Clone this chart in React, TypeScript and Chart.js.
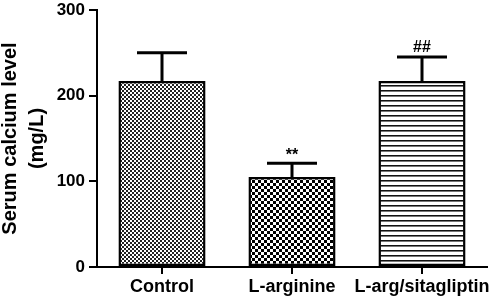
import React, { useEffect, useRef } from "react";
import { Chart, registerables } from "chart.js";

Chart.register(...registerables);

const categories = ["Control", "L-arginine", "L-arg/sitagliptin"];
const means = [217, 105, 217];
const errors = [33, 16, 28];
const sigLabels = ["", "**", "##"];
const yTicks = [0, 100, 200, 300];

const FONT = "'Liberation Sans', Arial, Helvetica, sans-serif";

function makePattern(kind: string): CanvasPattern | string {
  const c = document.createElement("canvas");
  const ctx = c.getContext("2d");
  if (!ctx) return "#888";
  if (kind === "fine") {
    c.width = 4; c.height = 4;
    ctx.fillStyle = "#fff"; ctx.fillRect(0, 0, 4, 4);
    ctx.fillStyle = "#222";
    ctx.fillRect(0, 0, 2, 2); ctx.fillRect(2, 2, 2, 2);
  } else if (kind === "coarse") {
    c.width = 6; c.height = 6;
    ctx.fillStyle = "#fff"; ctx.fillRect(0, 0, 6, 6);
    ctx.fillStyle = "#000";
    ctx.fillRect(0, 0, 3, 3); ctx.fillRect(3, 3, 3, 3);
  } else {
    c.width = 4; c.height = 5;
    ctx.fillStyle = "#fff"; ctx.fillRect(0, 0, 4, 5);
    ctx.fillStyle = "#111"; ctx.fillRect(0, 0, 4, 1);
    ctx.fillStyle = "#777"; ctx.fillRect(0, 1, 4, 1);
  }
  const p = ctx.createPattern(c, "repeat");
  return p || "#888";
}

const errorBarPlugin = {
  id: "errorBars",
  afterDatasetsDraw(chart: any) {
    const ctx = chart.ctx;
    const meta = chart.getDatasetMeta(0);
    const yScale = chart.scales.y;
    ctx.save();
    meta.data.forEach((bar: any, i: number) => {
      const x = bar.x;
      const yTop = yScale.getPixelForValue(means[i]);
      const yErr = yScale.getPixelForValue(means[i] + errors[i]);
      ctx.strokeStyle = "#000";
      ctx.lineWidth = 3;
      ctx.beginPath();
      ctx.moveTo(x, yTop);
      ctx.lineTo(x, yErr);
      ctx.moveTo(x - 25, yErr);
      ctx.lineTo(x + 25, yErr);
      ctx.stroke();
      if (sigLabels[i]) {
        ctx.fillStyle = "#000";
        ctx.font = `bold 16px ${FONT}`;
        ctx.textAlign = "center";
        ctx.textBaseline = "alphabetic";
        const off = sigLabels[i] === "**" ? 3 : 5;
        ctx.fillText(sigLabels[i], x, yErr - off);
      }
    });
    ctx.restore();
  },
};

export default function App() {
  const ref = useRef<HTMLCanvasElement | null>(null);
  useEffect(() => {
    if (!ref.current) return;
    const patterns = [makePattern("fine"), makePattern("coarse"), makePattern("stripes")];
    const chart = new Chart(ref.current, {
      type: "bar",
      data: {
        labels: categories,
        datasets: [
          {
            data: means,
            backgroundColor: patterns as any,
            borderColor: "#000",
            borderWidth: 2.5,
            borderSkipped: false,
            categoryPercentage: 1,
            barPercentage: 0.67,
          },
        ],
      },
      options: {
        responsive: false,
        animation: false,
        devicePixelRatio: 1,
        layout: { padding: { top: 10, right: 11, left: 0, bottom: 0 } },
        plugins: { legend: { display: false }, tooltip: { enabled: false } },
        scales: {
          x: {
            grid: { display: true, drawOnChartArea: false, offset: false, tickLength: 7, color: "#000", lineWidth: 2 },
            border: { display: true, color: "#000", width: 2 },
            ticks: { color: "#000", font: { family: FONT, size: 18, weight: "bold" }, padding: 2, maxRotation: 0, autoSkip: false },
            afterFit: (s: any) => { s.height = 32; s.paddingLeft = 0; s.paddingRight = 0; },
          },
          y: {
            min: 0,
            max: 300,
            afterBuildTicks: (s: any) => { s.ticks = yTicks.map((v) => ({ value: v })); },
            grid: { display: true, drawOnChartArea: false, tickLength: 8, color: "#000", lineWidth: 2 },
            border: { display: true, color: "#000", width: 2 },
            ticks: { color: "#000", font: { family: FONT, size: 17, weight: "bold" }, padding: 4 },
            title: {
              display: true,
              text: ["Serum calcium level", "(mg/L)"],
              color: "#000",
              font: { family: FONT, size: 20, weight: "bold", lineHeight: 1.35 },
              padding: { top: -3, bottom: 0 },
            },
            afterFit: (s: any) => { s.width = 97; s.paddingTop = 0; s.paddingBottom = 0; },
          },
        },
      } as any,
      plugins: [errorBarPlugin],
    });
    return () => chart.destroy();
  }, []);
  return (
    <div style={{ position: "absolute", left: 0, top: 0, width: 498, height: 299, background: "#fff" }}>
      <canvas ref={ref} width={498} height={299} />
    </div>
  );
}
